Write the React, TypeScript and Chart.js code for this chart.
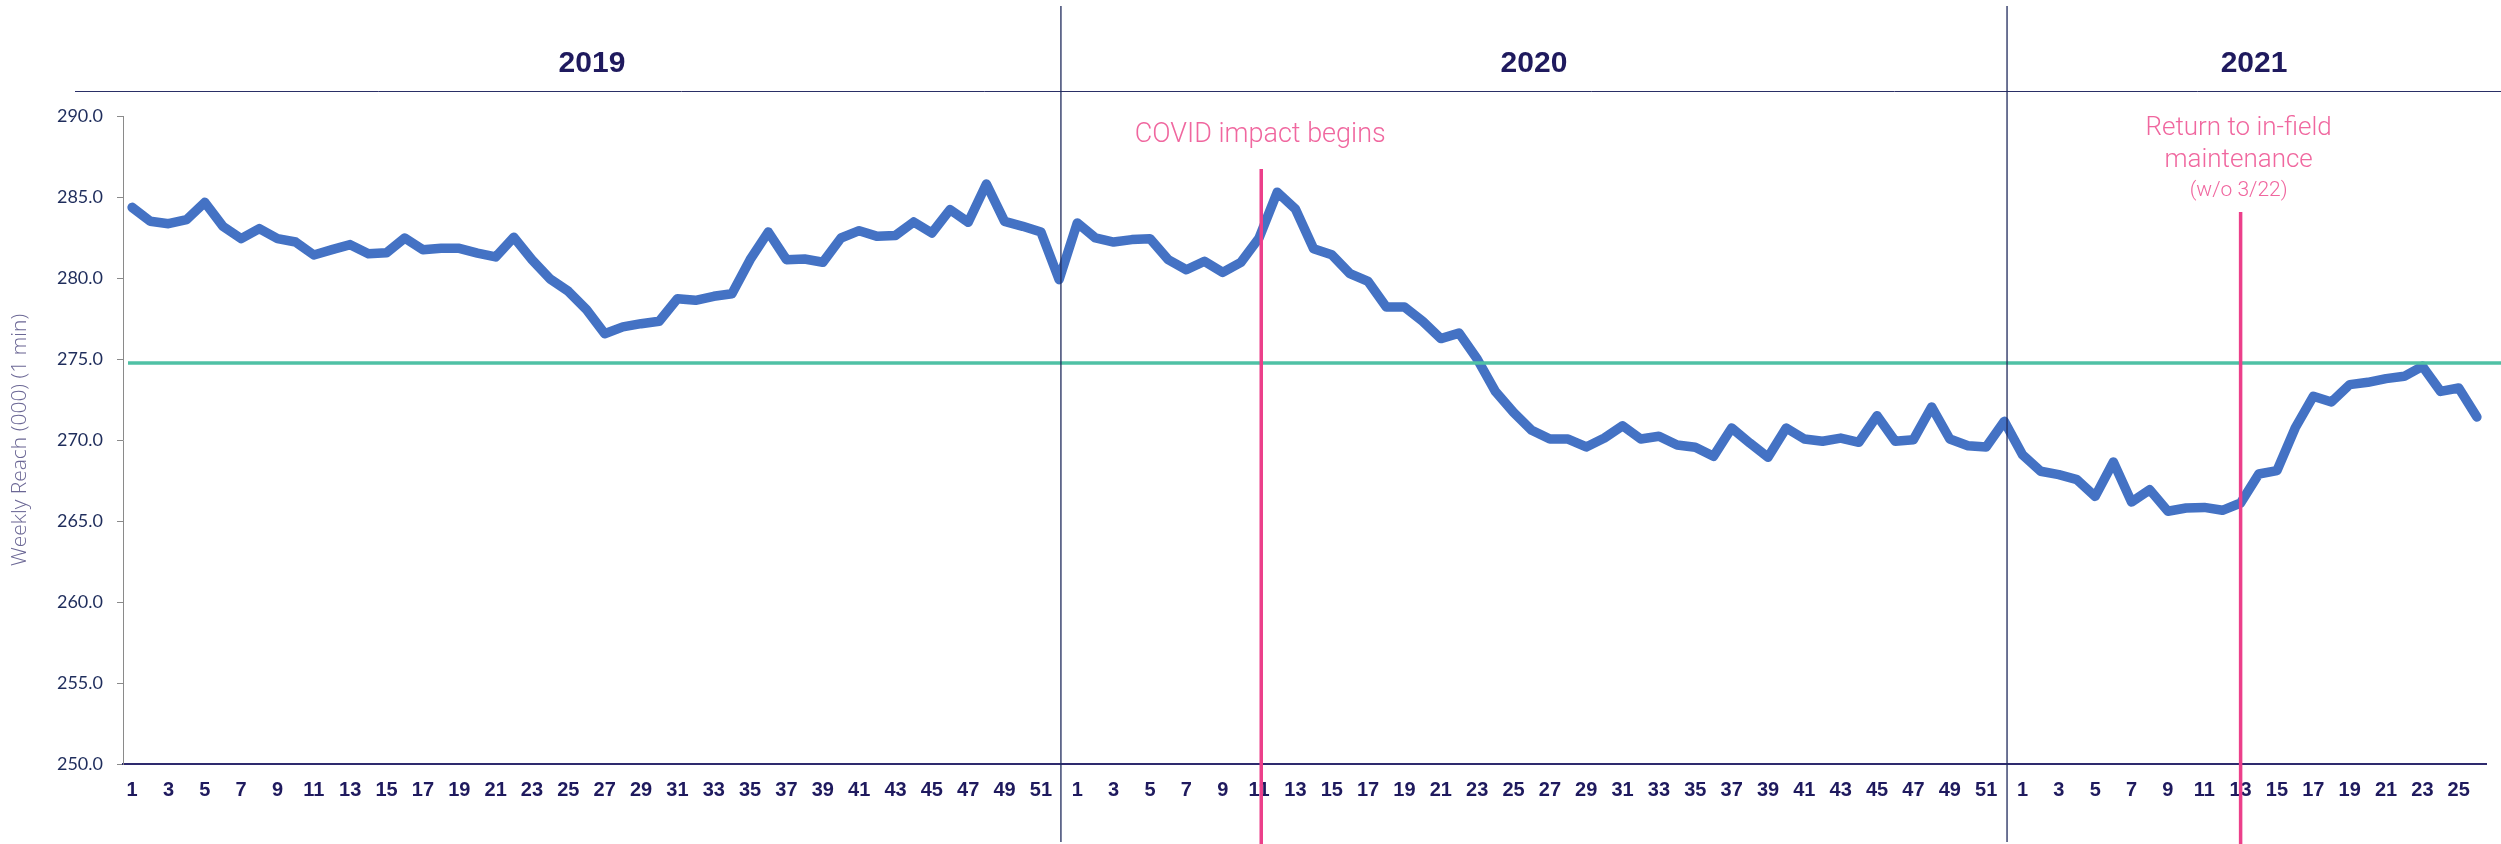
import { useEffect, useRef } from 'react';
import { Chart, registerables } from 'chart.js';
Chart.register(...registerables);

const reach2019 = [284.36, 283.5, 283.35, 283.6, 284.67, 283.19, 282.43, 283.05, 282.43, 282.22, 281.42, 281.75, 282.06, 281.5, 281.56, 282.47, 281.75, 281.83, 281.83, 281.54, 281.3, 282.51, 281.13, 279.94, 279.18, 278.05, 276.56, 276.98, 277.18, 277.33, 278.72, 278.62, 278.87, 279.03, 281.13, 282.84, 281.13, 281.17, 280.97, 282.47, 282.92, 282.57, 282.63, 283.46, 282.78, 284.22, 283.44, 285.8, 283.5, 283.19, 282.84, 279.9];
const reach2020 = [283.4, 282.47, 282.22, 282.37, 282.43, 281.13, 280.51, 281.03, 280.35, 280.97, 282.47, 285.3, 284.26, 281.81, 281.44, 280.27, 279.79, 278.21, 278.21, 277.33, 276.26, 276.6, 275.0, 273.0, 271.71, 270.6, 270.06, 270.06, 269.57, 270.12, 270.88, 270.06, 270.23, 269.69, 269.55, 268.99, 270.74, 269.81, 268.93, 270.74, 270.06, 269.92, 270.12, 269.86, 271.5, 269.92, 270.02, 272.04, 270.06, 269.65, 269.57, 271.15];
const reach2021 = [269.09, 268.07, 267.86, 267.55, 266.52, 268.64, 266.17, 266.93, 265.6, 265.8, 265.84, 265.66, 266.11, 267.9, 268.11, 270.74, 272.7, 272.35, 273.42, 273.56, 273.79, 273.93, 274.55, 273.0, 273.21, 271.42];

const years = ['2019', '2020', '2021'];
const averageReach = 274.75;
const yTicks = [250, 255, 260, 265, 270, 275, 280, 285, 290];
const yTitle = 'Weekly Reach (000) (1 min)';
const covidWeekIndex = 52 + 10; // 2020 week 11
const returnWeekIndex = 104 + 12; // 2021 week 13
const covidText = ['COVID impact begins'];
const returnText = ['Return to in-field', 'maintenance', '(w/o 3/22)'];

const weekLabels: string[] = [
  ...reach2019.map((_, i) => String(i + 1)),
  ...reach2020.map((_, i) => String(i + 1)),
  ...reach2021.map((_, i) => String(i + 1)),
];
const allReach = [...reach2019, ...reach2020, ...reach2021];

const NAVY = '#1F1A5E';
const PINK_LINE = '#EC3F8A';
const PINK_TEXT = '#F0679F';

const overlay = {
  id: 'overlay',
  afterDatasetsDraw(chart: any) {
    const { ctx, chartArea, scales } = chart;
    const x = scales.x;
    const y = scales.y;
    const W = chart.width;
    const H = chart.height;
    const div1 = x.getPixelForValue(reach2019.length - 1 + 0.1);
    const div2 = x.getPixelForValue(reach2019.length + reach2020.length - 1 + 0.15);
    ctx.save();
    const ya = y.getPixelForValue(averageReach);
    ctx.strokeStyle = '#4FC1A5';
    ctx.lineWidth = 3.5;
    ctx.beginPath();
    ctx.moveTo(chartArea.left + 5, ya);
    ctx.lineTo(W, ya);
    ctx.stroke();
    ctx.strokeStyle = '#2A2F66';
    ctx.lineWidth = 1;
    ctx.beginPath();
    ctx.moveTo(75, 91.5);
    ctx.lineTo(W, 91.5);
    ctx.stroke();
    ctx.strokeStyle = '#1F2A5C';
    ctx.lineWidth = 1.3;
    [div1, div2].forEach((px) => {
      ctx.beginPath();
      ctx.moveTo(px, 6);
      ctx.lineTo(px, H - 2);
      ctx.stroke();
    });
    ctx.fillStyle = NAVY;
    ctx.font = 'bold 30px "Liberation Sans", Arial, sans-serif';
    ctx.textAlign = 'center';
    ctx.textBaseline = 'middle';
    const bounds = [chartArea.left, div1, div2, W];
    years.forEach((yr, i) => {
      ctx.fillText(yr, (bounds[i] + bounds[i + 1]) / 2, 64);
    });
    const pc = x.getPixelForValue(covidWeekIndex + 0.12);
    const pr = x.getPixelForValue(returnWeekIndex);
    ctx.strokeStyle = PINK_LINE;
    ctx.lineWidth = 3.5;
    ctx.beginPath();
    ctx.moveTo(pc, 169);
    ctx.lineTo(pc, H);
    ctx.moveTo(pr, 212);
    ctx.lineTo(pr, H);
    ctx.stroke();
    ctx.fillStyle = PINK_TEXT;
    ctx.textBaseline = 'alphabetic';
    ctx.font = '300 27px Roboto, sans-serif';
    ctx.fillText(covidText[0], pc - 1, 142);
    ctx.font = '300 26px Roboto, sans-serif';
    ctx.fillText(returnText[0], pr - 2, 135);
    ctx.fillText(returnText[1], pr - 2, 167);
    ctx.font = '300 21px Roboto, sans-serif';
    ctx.fillText(returnText[2], pr - 2, 196);
    ctx.restore();
  },
};

export default function App() {
  const ref = useRef<HTMLCanvasElement>(null);
  useEffect(() => {
    if (!ref.current) return;
    const chart = new Chart(ref.current, {
      type: 'line',
      data: {
        labels: weekLabels,
        datasets: [
          {
            data: allReach,
            borderColor: '#4472C4',
            backgroundColor: '#4472C4',
            borderWidth: 9.5,
            pointRadius: 0,
            tension: 0,
            borderJoinStyle: 'round',
            borderCapStyle: 'round',
          },
        ],
      },
      options: {
        animation: false,
        responsive: false,
        maintainAspectRatio: false,
        devicePixelRatio: 1,
        layout: { padding: { top: 116, right: 15, left: 0, bottom: 0 } },
        plugins: { legend: { display: false }, tooltip: { enabled: false } },
        scales: {
          x: {
            type: 'category',
            offset: true,
            afterFit: (s: any) => { s.height = 80; },
            grid: { display: false, drawTicks: false },
            border: { display: true, color: '#2E2A6E', width: 2 },
            ticks: {
              autoSkip: false,
              maxRotation: 0,
              minRotation: 0,
              padding: 14,
              color: NAVY,
              font: { family: '"Liberation Sans", Arial, sans-serif', size: 20, weight: 'bold' },
              callback: (_v: any, i: number) => (Number(weekLabels[i]) % 2 === 1 ? weekLabels[i] : ''),
            },
          },
          y: {
            min: yTicks[0],
            max: yTicks[yTicks.length - 1],
            afterFit: (s: any) => { s.width = 123; },
            afterBuildTicks: (s: any) => { s.ticks = yTicks.map((v) => ({ value: v })); },
            grid: { display: true, drawOnChartArea: false, drawTicks: true, tickLength: 6, color: '#8A8A8A' },
            border: { display: true, color: '#8A8A8A', width: 1 },
            ticks: {
              padding: 14,
              color: '#1F2D5C',
              font: { family: 'Lato, sans-serif', size: 18 },
              callback: (v: any) => Number(v).toFixed(1),
            },
            title: {
              display: true,
              text: yTitle,
              color: '#6B6795',
              font: { family: '"Open Sans", sans-serif', size: 21, weight: '300' },
              padding: { top: 7, bottom: 0 },
            },
          },
        },
      },
      plugins: [overlay],
    });
    return () => chart.destroy();
  }, []);
  return (
    <div style={{ position: 'absolute', left: 0, top: 0, width: 2501, height: 844, background: '#fff' }}>
      <canvas ref={ref} width={2501} height={844} style={{ display: 'block' }} />
    </div>
  );
}
